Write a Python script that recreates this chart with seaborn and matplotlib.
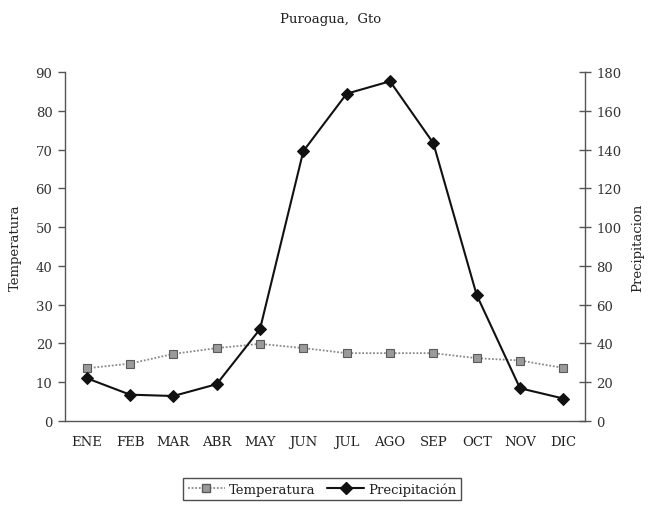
import matplotlib
matplotlib.use("Agg")
import matplotlib.pyplot as plt
import seaborn as sns
import pandas as pd
import numpy as np
from matplotlib.lines import Line2D

meses = ["ENE", "FEB", "MAR", "ABR", "MAY", "JUN", "JUL", "AGO", "SEP", "OCT", "NOV", "DIC"]
temperatura = [13.6, 14.8, 17.3, 18.8, 19.9, 18.8, 17.5, 17.5, 17.5, 16.2, 15.6, 13.7]
precipitacion = [22.1, 13.6, 12.9, 19.0, 47.4, 139.2, 168.8, 175.2, 143.3, 65.0, 16.9, 11.6]

sns.set_style("white")
plt.rcParams["font.family"] = ["DejaVu Serif"]
plt.rcParams["text.color"] = "#222222"

df = pd.DataFrame({"x": np.arange(len(meses)), "mes": meses,
                   "Temperatura": temperatura, "Precipitación": precipitacion})

fig = plt.figure(figsize=(6.48, 5.10), dpi=100)
ax = fig.add_axes([0.1003, 0.1725, 0.8025, 0.6844])
ax2 = ax.twinx()

axis_col = "#555555"
sns.lineplot(data=df, x="x", y="Temperatura", ax=ax, color="#8a8a8a",
             linestyle=(0, (1, 1)), linewidth=1.3, marker="s", markersize=6,
             markerfacecolor="#9a9a9a", markeredgecolor="#5a5a5a", markeredgewidth=0.8)
sns.lineplot(data=df, x="x", y="Precipitación", ax=ax2, color="#111111",
             linewidth=1.5, marker="D", markersize=6,
             markerfacecolor="#111111", markeredgecolor="#111111")

ax.set_xlim(-0.5, 11.5)
ax.set_ylim(0, 90)
ax2.set_ylim(0, 180)
ax.set_yticks(np.arange(0, 91, 10))
ax2.set_yticks(np.arange(0, 181, 20))
ax.set_xticks(np.arange(12))
ax.set_xticklabels(meses)
ax.set_xticks(np.arange(-0.5, 12, 1), minor=True)

for a in (ax, ax2):
    for s in a.spines.values():
        s.set_visible(False)
    a.grid(False)
ax.spines["left"].set_visible(True)
ax.spines["bottom"].set_visible(True)
ax2.spines["right"].set_visible(True)
for s in (ax.spines["left"], ax.spines["bottom"], ax2.spines["right"]):
    s.set_color(axis_col)
    s.set_linewidth(1.0)

fs = 9.5
ax.tick_params(axis="x", which="major", length=0, pad=10, labelsize=fs, colors="#222222")
ax.tick_params(axis="x", which="minor", direction="out", length=5, width=1, color=axis_col)
ax.tick_params(axis="y", direction="out", length=5, width=1, color=axis_col,
               labelsize=fs, labelcolor="#333333", left=True, pad=4)
ax2.tick_params(axis="y", direction="inout", length=8, width=1, color=axis_col,
                labelsize=fs, labelcolor="#333333", right=True, pad=4)

ax.set_xlabel("")
ax.set_ylabel("Temperatura", fontsize=fs, labelpad=10)
ax2.set_ylabel("Precipitacion", fontsize=fs, labelpad=7)

fig.text(0.51, 0.962, "Puroagua,  Gto", ha="center", va="center", fontsize=9.5)

handles = [
    Line2D([], [], color="#8a8a8a", linestyle=(0, (1, 1)), linewidth=1.3, marker="s",
           markersize=6, markerfacecolor="#9a9a9a", markeredgecolor="#5a5a5a"),
    Line2D([], [], color="#111111", linewidth=1.5, marker="D", markersize=6,
           markerfacecolor="#111111"),
]
leg = fig.legend(handles, ["Temperatura", "Precipitación"], loc="center",
                 bbox_to_anchor=(0.497, 0.039), ncol=2, frameon=True, fancybox=False,
                 fontsize=fs, handlelength=2.8, handletextpad=0.3, columnspacing=0.9,
                 borderpad=0.35, edgecolor="#222222")
leg.get_frame().set_linewidth(1.0)

fig.savefig("out.png", dpi=100)
